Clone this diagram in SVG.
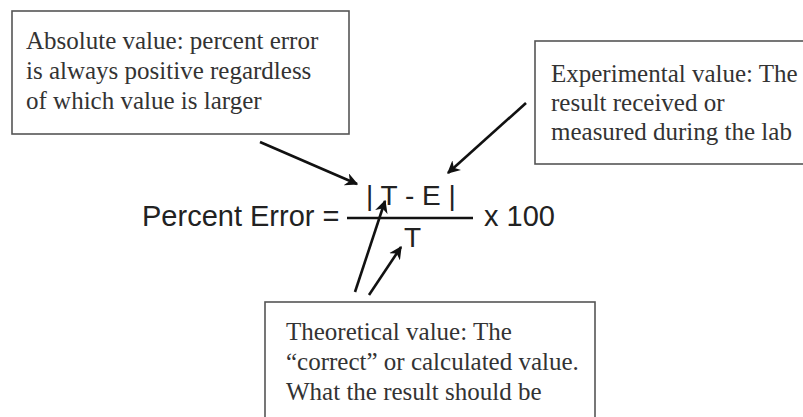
<svg xmlns="http://www.w3.org/2000/svg" width="803" height="417" viewBox="0 0 803 417">
<style>
.box{fill:#fff;stroke:#555;stroke-width:1.6}
.note{font-family:"Liberation Serif","Times New Roman",serif;font-size:25px;fill:#333}
.eq{font-family:"Liberation Sans",Arial,sans-serif;font-size:29px;fill:#222}
.arr{stroke:#111;stroke-width:2.6;fill:none;marker-end:url(#ah)}
</style>
<defs>
<marker id="ah" viewBox="0 0 10 10" refX="9" refY="5" markerWidth="5" markerHeight="5" orient="auto" markerUnits="strokeWidth">
<path d="M0,0 L10,5 L0,10 L3,5 Z" fill="#111"/>
</marker>
</defs>
<rect width="803" height="417" fill="#fff"/>
<g id="absolute">
<rect class="box" x="12" y="11" width="337" height="123"/>
<text class="note" x="26" y="49">Absolute value: percent error</text>
<text class="note" x="26" y="79">is always positive regardless</text>
<text class="note" x="26" y="109">of which value is larger</text>
</g>
<g id="experimental">
<rect class="box" x="535" y="41" width="280" height="123"/>
<text class="note" x="551" y="82">Experimental value: The</text>
<text class="note" x="551" y="111">result received or</text>
<text class="note" x="551" y="140">measured during the lab</text>
</g>
<g id="theoretical">
<rect class="box" x="265" y="302" width="330" height="130"/>
<text class="note" x="286" y="340">Theoretical value: The</text>
<text class="note" x="286" y="370">“correct” or calculated value.</text>
<text class="note" x="286" y="400">What the result should be</text>
</g>
<g id="formula">
<text class="eq" x="142" y="226">Percent Error =</text>
<text class="eq" x="366" y="205" style="font-size:28px">| T - E |</text>
<line x1="347" y1="218" x2="473" y2="218" stroke="#111" stroke-width="2.5"/>
<text class="eq" x="404" y="247" style="font-size:28px">T</text>
<text class="eq" x="484" y="226">x 100</text>
</g>
<g id="connectors">
<line class="arr" x1="260" y1="142" x2="357" y2="184"/>
<line class="arr" x1="526" y1="103" x2="448" y2="173"/>
<line class="arr" x1="355" y1="292" x2="385" y2="201"/>
<line class="arr" x1="369" y1="295" x2="401" y2="247"/>
</g>
</svg>
